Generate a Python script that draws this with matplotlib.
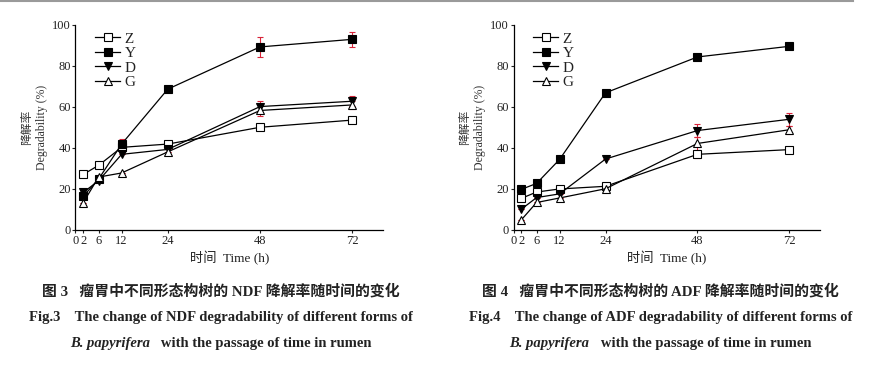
import matplotlib
matplotlib.use("Agg")
import matplotlib.pyplot as plt

plt.rcParams["font.family"] = ["Liberation Serif", "Noto Sans CJK SC"]

hours = [2, 6, 12, 24, 48, 72]
tick_hours = [0, 2, 6, 12, 24, 48, 72]
series_names = ["Z", "Y", "D", "G"]

# NDF degradability (%)
ndf_z = [27.1, 31.5, 40.3, 41.9, 50.1, 53.6]
ndf_y = [16.4, 24.8, 41.9, 68.7, 89.3, 93.0]
ndf_d = [18.3, 24.0, 36.9, 39.3, 60.2, 62.8]
ndf_g = [13.3, 25.8, 27.8, 38.1, 58.3, 61.0]
ndf_err_y = [0, 0, 2.5, 0, 5.0, 3.7]
ndf_err_d = [0, 0, 0, 0, 2.5, 2.5]
ndf_err_g = [0, 0, 0, 0, 2.5, 2.0]

# ADF degradability (%)
adf_z = [15.4, 18.5, 20.0, 21.3, 36.9, 39.2]
adf_y = [19.8, 22.7, 34.4, 66.9, 84.4, 89.6]
adf_d = [10.1, 15.8, 17.6, 34.6, 48.5, 54.0]
adf_g = [4.9, 13.4, 15.6, 20.1, 42.2, 48.9]
adf_err_z = [0, 0, 0, 0, 1.8, 0]
adf_err_d = [0, 0, 0, 0, 3.0, 3.3]
adf_err_g = [0, 0, 0, 0, 3.0, 2.0]

captions_ndf = ["图 3   瘤胃中不同形态构树的 NDF 降解率随时间的变化",
                "Fig.3    The change of NDF degradability of different forms of"]
captions_adf = ["图 4   瘤胃中不同形态构树的 ADF 降解率随时间的变化",
                "Fig.4    The change of ADF degradability of different forms of"]
species = "B. papyrifera"
caption_tail = "   with the passage of time in rumen"

MARKERS = {"Z": ("s", "white"), "Y": ("s", "black"), "D": ("v", "black"), "G": ("^", "white")}
ERR = "#d8253a"
TEXT = "#222222"


def draw_panel(ax, values, errors):
    for name, vals in zip(series_names, values):
        m, fc = MARKERS[name]
        err = errors.get(name)
        if err is not None:
            ax.errorbar(hours, vals, yerr=err, fmt="none", ecolor=ERR,
                        elinewidth=0.8, capsize=2.5, capthick=0.8, zorder=2)
        ax.plot(hours, vals, color="black", lw=0.9, marker=m, ms=6,
                mfc=fc, mec="black", mew=0.8, label=name, zorder=3)
    ax.set_xlim(0, 80)
    ax.set_ylim(0, 100)
    ax.set_xticks(tick_hours)
    ax.set_yticks([0, 20, 40, 60, 80, 100])
    for s in ["top", "right"]:
        ax.spines[s].set_visible(False)
    for s in ["left", "bottom"]:
        ax.spines[s].set_linewidth(0.9)
    ax.tick_params(direction="out", length=2.5, width=0.8, labelsize=9,
                   colors=TEXT, pad=0.8)
    ax.set_xlabel("时间  Time (h)", fontsize=9.5, color=TEXT, labelpad=3)
    ax.set_ylabel("降解率\nDegradability (%)", fontsize=8.5, color="#333333",
                  labelpad=3, linespacing=1.35)
    leg = ax.legend(loc="upper left", bbox_to_anchor=(0.035, 1.01), frameon=False,
                    fontsize=11, handlelength=1.6, handletextpad=0.3,
                    labelspacing=0.05, borderaxespad=0.2, markerscale=0.85)
    for t in leg.get_texts():
        t.set_color(TEXT)


fig = plt.figure(figsize=(8.84, 3.82), dpi=100)
fig.add_artist(plt.Line2D([0, 853 / 884], [0.997, 0.997], color="#9a9a9a", lw=1.5))

ax1 = fig.add_axes([0.0854, 0.398, 0.348, 0.5366])
draw_panel(ax1, [ndf_z, ndf_y, ndf_d, ndf_g],
           {"Y": ndf_err_y, "D": ndf_err_d, "G": ndf_err_g})

ax2 = fig.add_axes([0.581, 0.398, 0.3466, 0.5366])
draw_panel(ax2, [adf_z, adf_y, adf_d, adf_g],
           {"Z": adf_err_z, "D": adf_err_d, "G": adf_err_g})

pairs = []
for cx, caps in [(0.25, captions_ndf), (0.747, captions_adf)]:
    fig.text(cx, 1 - 291 / 382, caps[0], ha="center", va="center",
             fontsize=10.7, fontweight="bold", color=TEXT)
    fig.text(cx, 1 - 317 / 382, caps[1], ha="center", va="center",
             fontsize=10.5, fontweight="bold", color=TEXT)
    t1 = fig.text(cx, 1 - 343 / 382, species, ha="left", va="center",
                  fontsize=10.5, fontweight="bold", style="italic", color=TEXT)
    t2 = fig.text(cx, 1 - 343 / 382, caption_tail, ha="left", va="center",
                  fontsize=10.5, fontweight="bold", color=TEXT)
    pairs.append((cx, t1, t2))

# centre the mixed-style third caption line
fig.canvas.draw()
r = fig.canvas.get_renderer()
W = fig.bbox.width
for cx, t1, t2 in pairs:
    w1 = t1.get_window_extent(r).width / W
    w2 = t2.get_window_extent(r).width / W
    x0 = cx - (w1 + w2) / 2
    t1.set_x(x0)
    t2.set_x(x0 + w1)

fig.savefig("out.png", dpi=100, facecolor="white")
